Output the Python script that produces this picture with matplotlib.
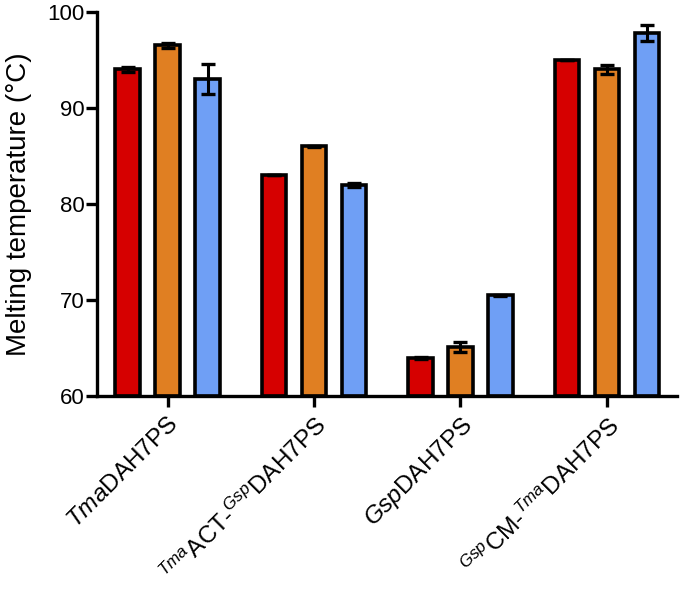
import numpy as np
import matplotlib
matplotlib.use("Agg")
import matplotlib.pyplot as plt
from matplotlib.transforms import ScaledTranslation

plt.rcParams['font.family'] = ['Liberation Sans', 'DejaVu Sans']
plt.rcParams['mathtext.fontset'] = 'custom'
plt.rcParams['mathtext.rm'] = 'Liberation Sans'
plt.rcParams['mathtext.it'] = 'Liberation Sans:italic'

# data
categories = [r'$Tma$DAH7PS', r'$^{Tma}$ACT-$^{Gsp}$DAH7PS',
              r'$Gsp$DAH7PS', r'$^{Gsp}$CM-$^{Tma}$DAH7PS']
red_vals = [94.0, 83.0, 64.0, 95.0]
red_err = [0.3, 0.0, 0.1, 0.0]
orange_vals = [96.5, 86.0, 65.1, 94.0]
orange_err = [0.3, 0.05, 0.5, 0.5]
blue_vals = [93.0, 82.0, 70.5, 97.8]
blue_err = [1.6, 0.2, 0.05, 0.8]

colors = ['#d60000', '#e07f22', '#6f9ff5']

fig = plt.figure(figsize=(6.8, 5.91), dpi=100)
ax = fig.add_axes([0.143, 0.33, 0.853, 0.65])

x = np.arange(len(categories))
offs = 0.273
w = 0.17
for i, (vals, errs) in enumerate([(red_vals, red_err), (orange_vals, orange_err), (blue_vals, blue_err)]):
    pos = x + (i - 1) * offs
    ax.bar(pos, np.array(vals) - 60, bottom=60, width=w, color=colors[i],
           edgecolor='black', linewidth=2.6, zorder=2)
    ax.errorbar(pos, vals, yerr=errs, fmt='none', ecolor='black',
                elinewidth=2.2, capsize=5, capthick=2.4, zorder=3)

ax.set_ylim(60, 100)
ax.set_xlim(-0.48, 3.48)
ax.set_yticks([60, 70, 80, 90, 100])
ax.set_xticks(x)
ax.set_xticklabels(categories, rotation=45, ha='right', va='top', rotation_mode='anchor')
ax.tick_params(axis='y', labelsize=16, width=2.4, length=8, direction='out', pad=1)
ax.tick_params(axis='x', labelsize=17.5, width=2.4, length=8, direction='out', pad=3)
ax.set_ylabel('Melting temperature (°C)', fontsize=20, labelpad=11)

shift = ScaledTranslation(0 / 100, -2 / 100, fig.dpi_scale_trans)
for lab in ax.get_xticklabels():
    lab.set_transform(lab.get_transform() + shift)

for s in ['top', 'right']:
    ax.spines[s].set_visible(False)
for s in ['left', 'bottom']:
    ax.spines[s].set_linewidth(2.4)

fig.savefig('out.png', dpi=100)
